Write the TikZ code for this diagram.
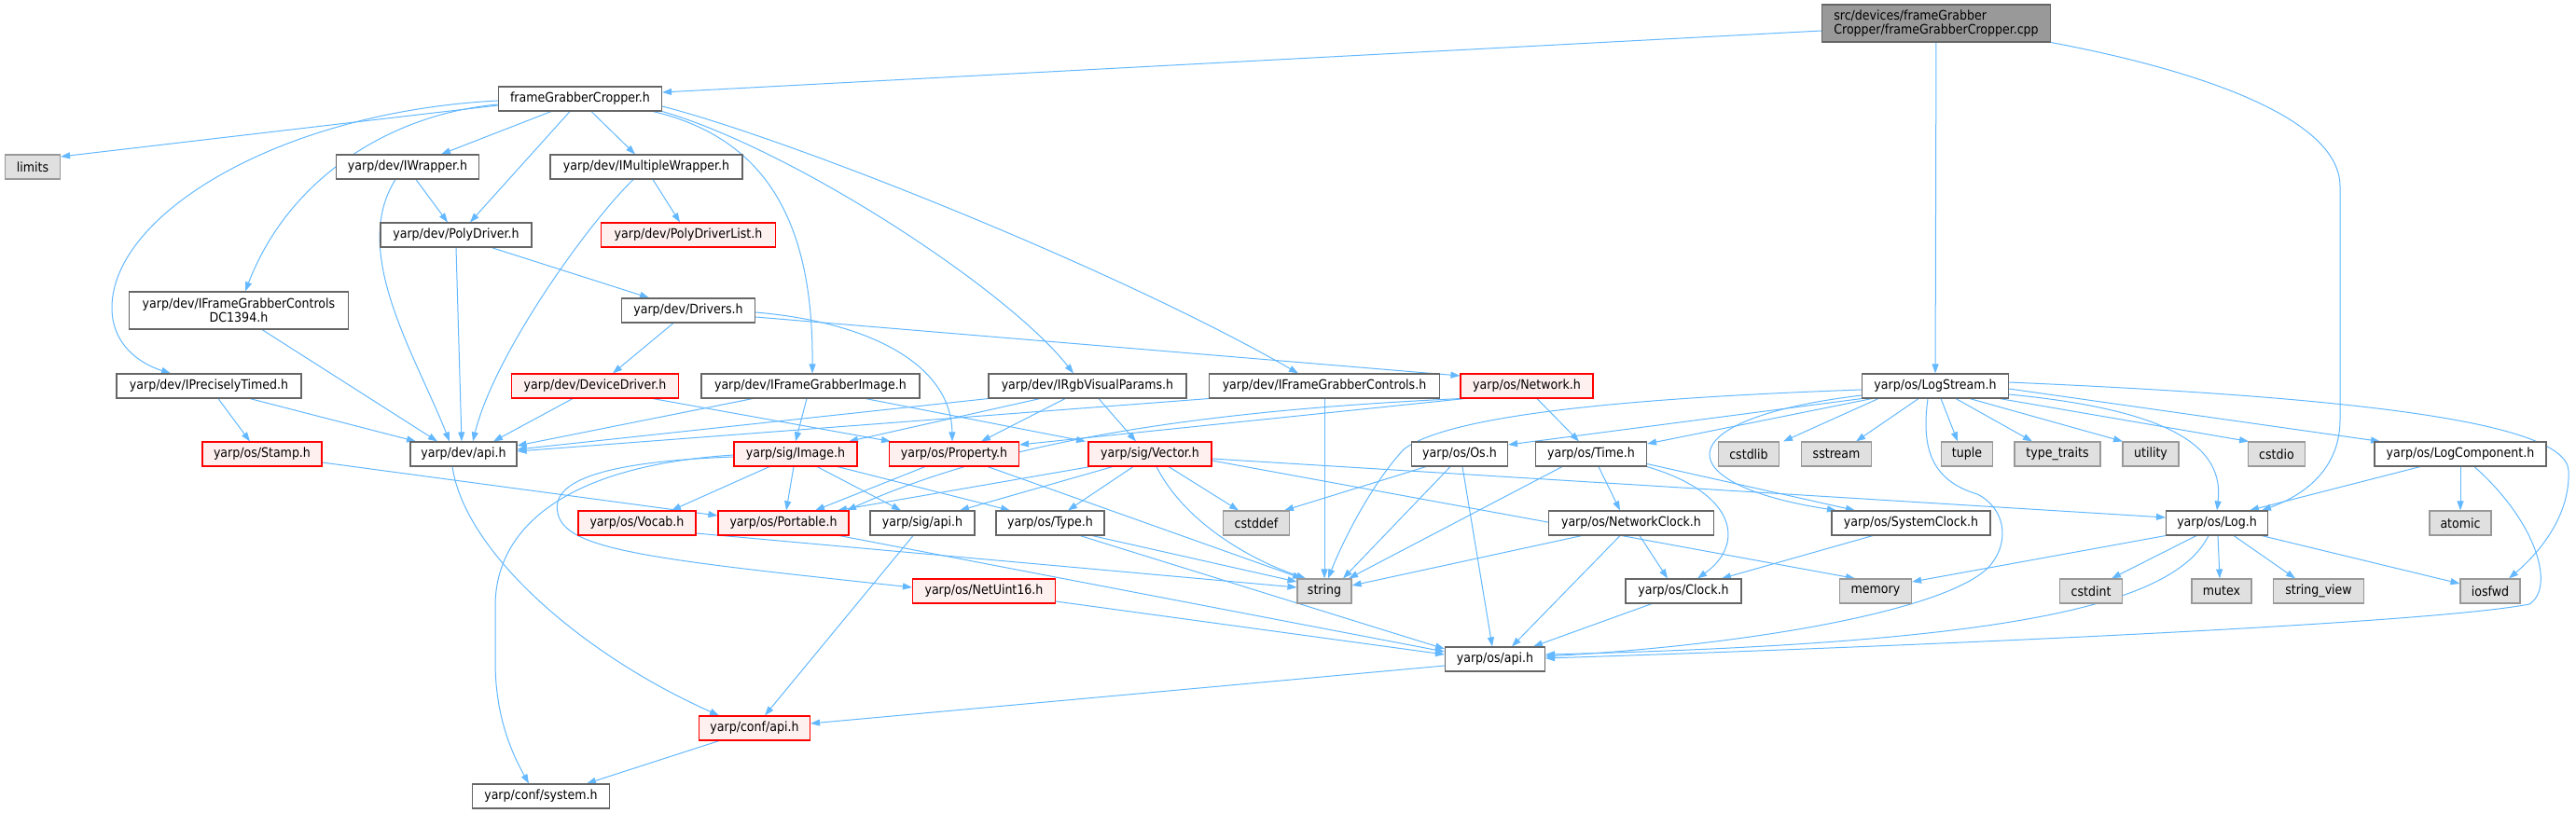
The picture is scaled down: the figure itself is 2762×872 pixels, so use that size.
\documentclass[tikz,border=0pt]{standalone}
\usepackage{fontspec}
\setmainfont{DejaVu Sans Condensed}
\usetikzlibrary{arrows.meta,backgrounds}
\definecolor{edgeblue}{HTML}{63B8FF}
\definecolor{redfill}{HTML}{FFF0F0}
\definecolor{sysfill}{HTML}{E0E0E0}
\definecolor{srcfill}{HTML}{999999}
\definecolor{darkline}{HTML}{666666}
\definecolor{sysline}{HTML}{999999}
\begin{document}
\begin{tikzpicture}[x=1pt,y=-1pt,
  hdr/.style={draw=darkline,fill=white,line width=1.1pt,minimum height=26pt,inner sep=0pt,font=\fontsize{14}{15}\selectfont},
  redhdr/.style={hdr,draw=red,fill=redfill},
  syshdr/.style={hdr,draw=sysline,fill=sysfill},
  srchdr/.style={hdr,fill=srcfill,minimum height=40pt,align=left},
  inc/.style={draw=edgeblue,line width=1pt,-{Triangle[length=10pt,width=7pt]}}]
\useasboundingbox (0,0) rectangle (2762,872);

\node[srchdr,minimum width=245pt] (main) at (2076,25) {src/devices/frameGrabber\\Cropper/frameGrabberCropper.cpp};
\node[hdr,minimum width=175pt] (fgc) at (622,106) {frameGrabberCropper.h};

\node[syshdr,minimum width=59pt] (limits) at (35,179) {limits};
\node[hdr,minimum width=153pt] (iwrap) at (437,179) {yarp/dev/IWrapper.h};
\node[hdr,minimum width=206pt] (imulti) at (693,179) {yarp/dev/IMultipleWrapper.h};

\node[hdr,minimum width=162pt] (poly) at (489,252) {yarp/dev/PolyDriver.h};
\node[redhdr,minimum width=187pt] (polylist) at (738,252) {yarp/dev/PolyDriverList.h};

\node[hdr,minimum width=235pt,minimum height=40pt,align=center] (dc1394) at (256,333) {yarp/dev/IFrameGrabberControls\\DC1394.h};
\node[hdr,minimum width=143pt] (drivers) at (738,333) {yarp/dev/Drivers.h};

\node[hdr,minimum width=198pt] (iprec) at (224,414) {yarp/dev/IPreciselyTimed.h};
\node[redhdr,minimum width=179pt] (devdrv) at (638,414) {yarp/dev/DeviceDriver.h};
\node[hdr,minimum width=234pt] (ifgimg) at (869,414) {yarp/dev/IFrameGrabberImage.h};
\node[hdr,minimum width=212pt] (irgb) at (1166,414) {yarp/dev/IRgbVisualParams.h};
\node[hdr,minimum width=247pt] (ifgctl) at (1420,414) {yarp/dev/IFrameGrabberControls.h};
\node[redhdr,minimum width=142pt] (network) at (1637,414) {yarp/os/Network.h};
\node[hdr,minimum width=157pt] (logstream) at (2075,414) {yarp/os/LogStream.h};

\node[redhdr,minimum width=128pt] (stamp) at (281,487) {yarp/os/Stamp.h};
\node[hdr,minimum width=114pt] (devapi) at (497,487) {yarp/dev/api.h};
\node[redhdr,minimum width=132pt] (image) at (853,487) {yarp/sig/Image.h};
\node[redhdr,minimum width=139pt] (property) at (1023,487) {yarp/os/Property.h};
\node[redhdr,minimum width=132pt] (vector) at (1233,487) {yarp/sig/Vector.h};
\node[hdr,minimum width=103pt] (os) at (1565,487) {yarp/os/Os.h};
\node[hdr,minimum width=119pt] (time) at (1706,487) {yarp/os/Time.h};
\node[syshdr,minimum width=65pt] (cstdlib) at (1875,487) {cstdlib};
\node[syshdr,minimum width=75pt] (sstream) at (1969,487) {sstream};
\node[syshdr,minimum width=55pt] (tuple) at (2109,487) {tuple};
\node[syshdr,minimum width=92pt] (typetraits) at (2206,487) {type\_traits};
\node[syshdr,minimum width=60pt] (utility) at (2306,487) {utility};
\node[syshdr,minimum width=61pt] (cstdio) at (2441,487) {cstdio};
\node[hdr,minimum width=184pt] (logcomp) at (2638,487) {yarp/os/LogComponent.h};

\node[redhdr,minimum width=126pt] (vocab) at (683,561) {yarp/os/Vocab.h};
\node[redhdr,minimum width=140pt] (portable) at (840,561) {yarp/os/Portable.h};
\node[hdr,minimum width=112pt] (sigapi) at (989,561) {yarp/sig/api.h};
\node[hdr,minimum width=116pt] (type) at (1126,561) {yarp/os/Type.h};
\node[syshdr,minimum width=71pt] (cstddef) at (1347,561) {cstddef};
\node[hdr,minimum width=177pt] (netclock) at (1749,561) {yarp/os/NetworkClock.h};
\node[hdr,minimum width=170pt] (sysclock) at (2049,561) {yarp/os/SystemClock.h};
\node[hdr,minimum width=109pt] (log) at (2377,561) {yarp/os/Log.h};
\node[syshdr,minimum width=66pt] (atomic) at (2638,561) {atomic};

\node[redhdr,minimum width=153pt] (netuint) at (1055,634) {yarp/os/NetUint16.h};
\node[syshdr,minimum width=58pt] (string) at (1420,634) {string};
\node[hdr,minimum width=124pt] (clock) at (1805,634) {yarp/os/Clock.h};
\node[syshdr,minimum width=77pt] (memory) at (2011,634) {memory};
\node[syshdr,minimum width=67pt] (cstdint) at (2242,634) {cstdint};
\node[syshdr,minimum width=64pt] (mutex) at (2382,634) {mutex};
\node[syshdr,minimum width=97pt] (stringview) at (2486,634) {string\_view};
\node[syshdr,minimum width=64pt] (iosfwd) at (2670,634) {iosfwd};

\node[hdr,minimum width=107pt] (osapi) at (1603,707) {yarp/os/api.h};
\node[redhdr,minimum width=119pt] (confapi) at (809,781) {yarp/conf/api.h};
\node[hdr,minimum width=147pt] (system) at (580,854) {yarp/conf/system.h};

\begin{pgfonlayer}{background}
% source file
\draw[inc] ([yshift=-8pt]main.west) -- ([yshift=7pt]fgc.east);
\draw[inc] (main) -- (logstream);
\draw[inc] (main.south east) .. controls (2330,70) and (2509,120) .. (2509,200) -- (2509,450) .. controls (2509,510) and (2460,535) .. ([xshift=48pt]log.north);

% frameGrabberCropper.h
\draw[inc] ([yshift=-7pt]fgc.west) -- ([yshift=11pt]limits.east);
\draw[inc] ([xshift=-31pt]fgc.south) -- ([xshift=36pt]iwrap.north);
\draw[inc] ([xshift=-11pt]fgc.south) -- ([xshift=15pt]poly.north);
\draw[inc] ([xshift=12pt]fgc.south) -- ([xshift=-12pt]imulti.north);
\draw[inc] ([yshift=-6pt]fgc.west) .. controls (420,122) and (310,190) .. ([xshift=7pt]dc1394.north);
\draw[inc] ([yshift=-2pt]fgc.west) .. controls (300,120) and (120,230) .. (120,330) .. controls (120,370) and (150,390) .. ([xshift=-41pt]iprec.north);
\draw[inc] ([xshift=-10pt]fgc.south east) .. controls (830,150) and (872,250) .. ([xshift=2pt]ifgimg.north);
\draw[inc] (fgc.south east) .. controls (850,160) and (1080,310) .. ([xshift=-15pt]irgb.north);
\draw[inc] ([yshift=-8pt]fgc.east) .. controls (850,150) and (1200,290) .. ([xshift=-28pt]ifgctl.north);

% yarp/dev
\draw[inc] ([xshift=9pt]iwrap.south) -- ([xshift=-9pt]poly.north);
\draw[inc] ([xshift=-13pt]iwrap.south) .. controls (375,270) and (445,380) .. ([xshift=-15pt]devapi.north);
\draw[inc] (poly.south) -- ([xshift=-2pt]devapi.north);
\draw[inc] ([xshift=38pt]poly.south) -- ([xshift=-42pt]drivers.north);
\draw[inc] ([xshift=7pt]imulti.south) -- ([xshift=-9pt]polylist.north);
\draw[inc] ([xshift=-14pt]imulti.south) .. controls (630,240) and (530,380) .. ([xshift=10pt]devapi.north);
\draw[inc] ([xshift=-16pt]drivers.south) -- ([xshift=19pt]devdrv.north);
\draw[inc] ([yshift=-2pt]drivers.east) .. controls (930,345) and (1020,390) .. ([xshift=-2pt]property.north);
\draw[inc] ([yshift=-7pt]drivers.east) -- ([yshift=11pt]network.west);
\draw[inc] ([xshift=25pt]dc1394.south) -- ([xshift=-28pt]devapi.north);
\draw[inc] ([xshift=10pt]iprec.south) -- ([xshift=-13pt]stamp.north);
\draw[inc] ([xshift=44pt]iprec.south) -- ([xshift=-51pt]devapi.north);
\draw[inc] ([xshift=-24pt]devdrv.south) -- ([xshift=32pt]devapi.north);
\draw[inc] ([xshift=62pt]devdrv.south) -- ([xshift=-68pt]property.north);
\draw[inc] ([xshift=-62pt]ifgimg.south) -- ([yshift=9pt]devapi.east);
\draw[inc] ([xshift=-4pt]ifgimg.south) -- (image.north);
\draw[inc] ([xshift=59pt]ifgimg.south) -- ([xshift=-69pt]vector.north);
\draw[inc] (irgb.south west) -- ([yshift=5pt]devapi.east);
\draw[inc] ([xshift=-51pt]irgb.south) -- ([xshift=57pt]image.north);
\draw[inc] ([xshift=-24pt]irgb.south) -- ([xshift=29pt]property.north);
\draw[inc] ([xshift=12pt]irgb.south) -- ([xshift=-15pt]vector.north);
\draw[inc] (ifgctl.south west) -- ([yshift=3pt]devapi.east);
\draw[inc] (ifgctl.south) -- (string.north);
\draw[inc] ([xshift=-12pt]devapi.south) .. controls (498,590) and (620,700) .. ([xshift=-38pt]confapi.north);

% yarp/os/Network.h
\draw[inc] ([xshift=5pt]network.south west) -- ([yshift=10pt]property.east);
\draw[inc] (network.south west) .. controls (1300,440) and (1080,470) .. ([xshift=68pt]portable.north);
\draw[inc] ([xshift=11pt]network.south) -- ([xshift=-13pt]time.north);

% yarp/os/LogStream.h
\draw[inc] ([xshift=-61pt]logstream.south) -- ([xshift=37pt]cstdlib.north);
\draw[inc] ([xshift=-18pt]logstream.south) -- ([xshift=21pt]sstream.north);
\draw[inc] ([xshift=6pt]logstream.south) -- ([xshift=-10pt]tuple.north);
\draw[inc] ([xshift=22pt]logstream.south) -- ([xshift=-27pt]typetraits.north);
\draw[inc] ([xshift=37pt]logstream.south) -- ([xshift=-30pt]utility.north);
\draw[inc] ([xshift=69pt]logstream.south) -- ([xshift=-30pt]cstdio.north);
\draw[inc] ([yshift=-3pt]logstream.east) -- ([xshift=-86pt]logcomp.north);
\draw[inc] ([yshift=-9pt]logstream.east) .. controls (2330,440) and (2385,480) .. (log.north);
\draw[inc] ([yshift=4pt]logstream.east) .. controls (2500,425) and (2752,450) .. (2754,505) .. controls (2756,555) and (2720,595) .. ([xshift=20pt]iosfwd.north);
\draw[inc] (logstream.south west) -- ([yshift=10pt]os.east);
\draw[inc] ([xshift=-68pt]logstream.south) -- ([yshift=11pt]time.east);
\draw[inc] ([yshift=-4pt]logstream.west) .. controls (1800,425) and (1560,440) .. (1505,482) .. controls (1470,520) and (1440,580) .. ([xshift=4pt]string.north);
\draw[inc] ([yshift=-10pt]logstream.west) .. controls (1780,450) and (1790,520) .. ([xshift=-80pt]sysclock.north);
\draw[inc] ([xshift=-8pt]logstream.south) .. controls (2060,480) and (2070,515) .. (2120,530) .. controls (2150,545) and (2155,580) .. (2135,605) .. controls (2100,650) and (1900,690) .. ([yshift=3pt]osapi.east);

% yarp/os
\draw[inc] ([xshift=-36pt]os.south) -- ([xshift=30pt]cstddef.north);
\draw[inc] ([xshift=-10pt]os.south) -- ([xshift=20pt]string.north);
\draw[inc] ([xshift=3pt]os.south) -- ([xshift=-3pt]osapi.north);
\draw[inc] ([xshift=-31pt]time.south) -- ([xshift=26pt]string.north);
\draw[inc] ([xshift=8pt]time.south) -- ([xshift=-12pt]netclock.north);
\draw[inc] (time.south east) .. controls (1865,530) and (1870,585) .. ([xshift=15pt]clock.north);
\draw[inc] ([yshift=3pt]time.south east) -- ([xshift=-60pt]sysclock.north);
\draw[inc] ([xshift=-53pt]netclock.south) -- ([yshift=6pt]string.east);
\draw[inc] ([xshift=-12pt]netclock.south) -- ([xshift=18pt]osapi.north);
\draw[inc] ([xshift=9pt]netclock.south) -- ([xshift=-17pt]clock.north);
\draw[inc] ([xshift=-41pt]sysclock.south) -- ([xshift=41pt]clock.north);
\draw[inc] ([xshift=-34pt]clock.south) -- ([xshift=41pt]osapi.north);
\draw[inc] (log.south west) -- ([yshift=10pt]memory.east);
\draw[inc] ([xshift=-22pt]log.south) -- ([xshift=22pt]cstdint.north);
\draw[inc] ([xshift=1pt]log.south) -- ([xshift=-2pt]mutex.north);
\draw[inc] ([xshift=18pt]log.south) -- ([xshift=-25pt]stringview.north);
\draw[inc] ([xshift=48pt]log.south) -- ([yshift=8pt]iosfwd.west);
\draw[inc] ([xshift=-9pt]log.south) .. controls (2330,650) and (2150,690) .. ([yshift=5pt]osapi.east);
\draw[inc] ([xshift=-43pt]logcomp.south) -- ([xshift=35pt]log.north);
\draw[inc] (logcomp.south) -- (atomic.north);
\draw[inc] ([xshift=15pt]logcomp.south) .. controls (2720,560) and (2740,630) .. (2712,648) .. controls (2600,670) and (2000,695) .. ([yshift=1pt]osapi.east);

% yarp/sig
\draw[inc] ([yshift=-5pt]vector.east) -- ([yshift=6pt]log.west);
\draw[inc] ([yshift=-7pt]vector.east) -- ([xshift=-22pt]memory.north);
\draw[inc] ([xshift=-64pt]vector.south) -- ([xshift=58pt]portable.north);
\draw[inc] ([xshift=-40pt]vector.south) -- ([xshift=40pt]sigapi.north);
\draw[inc] ([xshift=-18pt]vector.south) -- ([xshift=19pt]type.north);
\draw[inc] ([xshift=20pt]vector.south) -- ([xshift=-19pt]cstddef.north);
\draw[inc] ([xshift=7pt]vector.south) .. controls (1270,560) and (1340,600) .. ([xshift=-20pt]string.north);
\draw[inc] ([xshift=-28pt]image.south) -- ([xshift=37pt]vocab.north);
\draw[inc] ([xshift=-2pt]image.south) -- ([xshift=3pt]portable.north);
\draw[inc] ([xshift=23pt]image.south) -- ([xshift=-23pt]sigapi.north);
\draw[inc] ([xshift=45pt]image.south) -- ([xshift=-43pt]type.north);
\draw[inc] ([yshift=-3pt]image.west) .. controls (650,495) and (590,515) .. (598,550) .. controls (605,590) and (700,600) .. ([yshift=4pt]netuint.west);
\draw[inc] ([yshift=-1pt]image.west) .. controls (600,500) and (531,570) .. (531,650) -- (531,710) .. controls (531,770) and (550,810) .. ([xshift=-13pt]system.north);
\draw[inc] ([xshift=-31pt]property.south) -- ([xshift=34pt]portable.north);
\draw[inc] ([xshift=36pt]property.south) -- ([xshift=-24pt]string.north);
\draw[inc] ([yshift=-9pt]stamp.east) -- ([yshift=8pt]portable.west);
\draw[inc] ([yshift=-11pt]vocab.east) -- ([yshift=4pt]string.west);
\draw[inc] ([xshift=60pt]portable.south) -- ([yshift=8pt]osapi.west);
\draw[inc] ([xshift=-10pt]sigapi.south) -- ([xshift=11pt]confapi.north);
\draw[inc] ([xshift=45pt]type.south) -- ([yshift=10pt]string.west);
\draw[inc] ([xshift=32pt]type.south) -- ([yshift=11pt]osapi.west);
\draw[inc] ([yshift=-11pt]netuint.east) -- ([yshift=5pt]osapi.west);

% yarp/conf
\draw[inc] ([yshift=-7pt]osapi.west) -- ([yshift=5pt]confapi.east);
\draw[inc] ([xshift=-38pt]confapi.south) -- ([xshift=49pt]system.north);
\end{pgfonlayer}
\end{tikzpicture}
\end{document}
